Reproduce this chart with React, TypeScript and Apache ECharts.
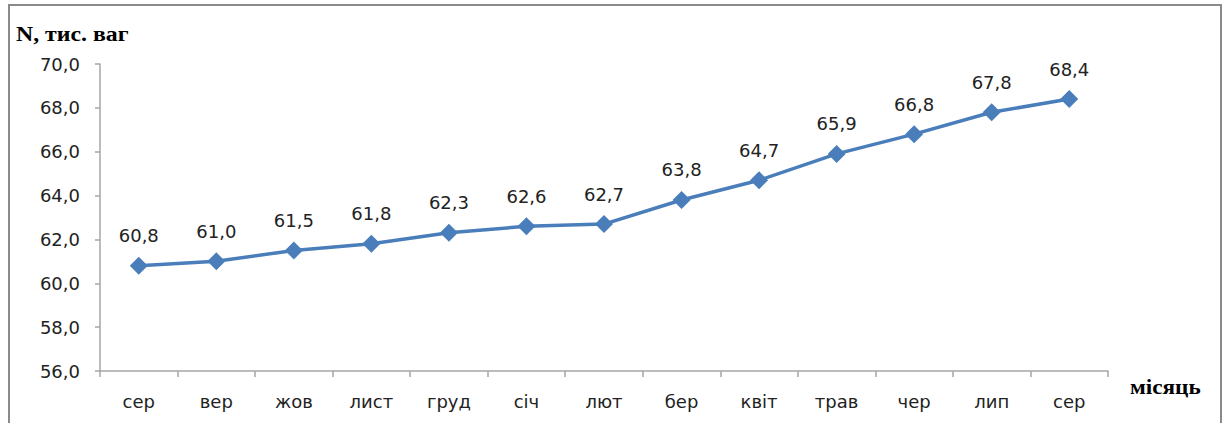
import React, { useEffect, useRef } from "react";
import * as echarts from "echarts";

const categories = ["сер", "вер", "жов", "лист", "груд", "січ", "лют", "бер", "квіт", "трав", "чер", "лип", "сер"];
const values = [60.8, 61.0, 61.5, 61.8, 62.3, 62.6, 62.7, 63.8, 64.7, 65.9, 66.8, 67.8, 68.4];
const yAxisTitle = "N, тис. ваг";
const xAxisTitle = "місяць";

const fmt = (v: number) => v.toFixed(1).replace(".", ",");

export default function App() {
  const ref = useRef<HTMLDivElement>(null);
  useEffect(() => {
    document.body.style.margin = "0";
    const chart = echarts.init(ref.current!, null, { renderer: "svg" });
    const labelFont = "'DejaVu Sans', Verdana, sans-serif";
    const titleFont = "bold 20px 'Liberation Serif', 'Times New Roman', serif";
    chart.setOption({
      animation: false,
      backgroundColor: "#ffffff",
      grid: { left: 100, right: 115, top: 64, bottom: 52, containLabel: false },
      graphic: [
        {
          type: "rect",
          shape: { x: 9, y: 5, width: 1212, height: 430 },
          style: { fill: "none", stroke: "#8a8a8a", lineWidth: 2 },
        },
        {
          type: "text",
          x: 16,
          y: 34,
          scaleX: 1.19,
          style: {
            text: yAxisTitle,
            font: titleFont,
            fill: "#000",
            verticalAlign: "middle",
          },
        },
        {
          type: "text",
          x: 1130,
          y: 388,
          scaleX: 1.16,
          style: {
            text: xAxisTitle,
            font: titleFont,
            fill: "#000",
            verticalAlign: "middle",
          },
        },
      ],
      xAxis: {
        type: "category",
        data: categories,
        boundaryGap: true,
        axisLine: { lineStyle: { color: "#a6a6a6", width: 1.5 } },
        axisTick: { show: true, length: 6, lineStyle: { color: "#a6a6a6", width: 1.5 } },
        axisLabel: { color: "#222", fontSize: 18, fontFamily: labelFont, margin: 21 },
        splitLine: { show: false },
      },
      yAxis: {
        type: "value",
        min: 56,
        max: 70,
        interval: 2,
        axisLine: { show: true, lineStyle: { color: "#a6a6a6", width: 1.5 } },
        axisTick: { show: true, length: 5, lineStyle: { color: "#a6a6a6", width: 1.5 } },
        axisLabel: { color: "#222", fontSize: 18, fontFamily: labelFont, margin: 20, formatter: (v: number) => fmt(v) },
        splitLine: { show: false },
      },
      series: [
        {
          type: "line",
          data: values,
          symbol: "diamond",
          symbolSize: 18,
          lineStyle: { color: "#4a7ebb", width: 3.5 },
          itemStyle: { color: "#4a7ebb" },
          label: {
            show: true,
            position: "top",
            distance: 12,
            color: "#222",
            fontSize: 18,
            fontFamily: labelFont,
            formatter: (p: any) => fmt(p.value),
          },
        },
      ],
    });
    return () => chart.dispose();
  }, []);
  return <div ref={ref} style={{ width: 1223, height: 423 }} />;
}
